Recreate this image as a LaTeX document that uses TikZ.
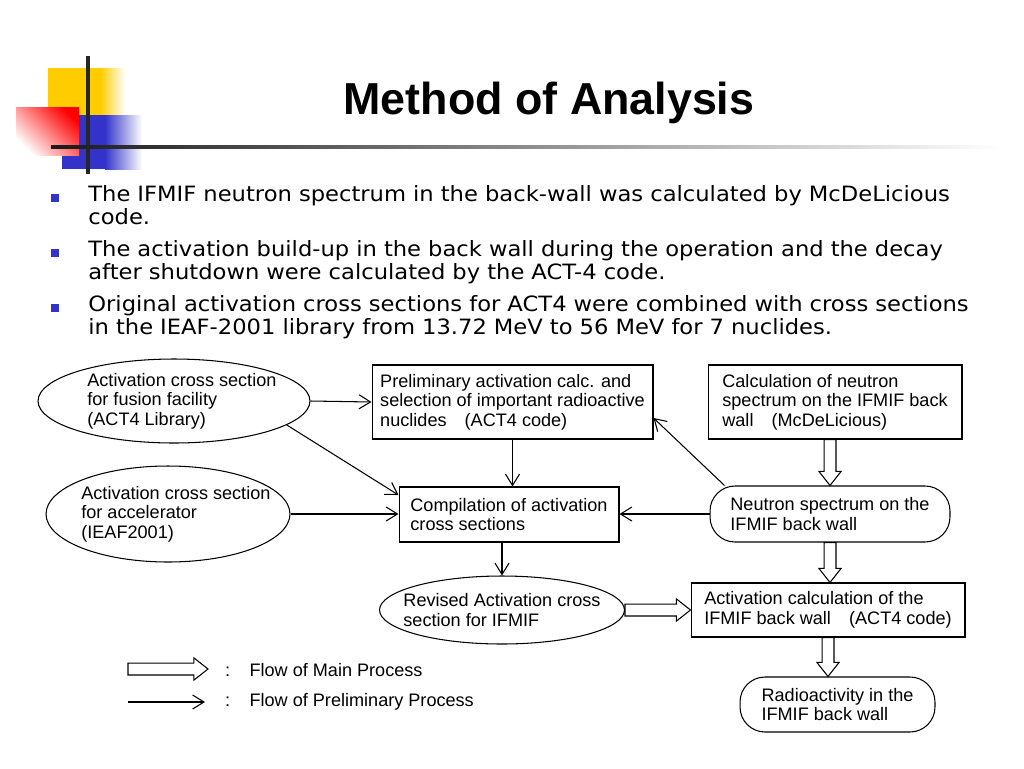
\documentclass[tikz,border=0pt]{standalone}
\usepackage{fontspec}
\setmainfont{Liberation Sans}
\newfontfamily\tahoma[FakeStretch=1.074]{DejaVu Sans}
\usepackage{tikz}
\usetikzlibrary{shapes.geometric}
\usetikzlibrary{positioning,calc,arrows.meta}
\usepackage{xcolor}

\definecolor{deckyellow}{RGB}{255,204,0}
\definecolor{deckblue}{RGB}{51,51,204}
\definecolor{deckred}{RGB}{255,0,0}

\newcommand\diagfont{\fontsize{10.3}{11.1}\selectfont}
\newcommand\slidetitlefont{\fontsize{25.5}{28}\selectfont\bfseries}
\newcommand\itemfont{\tahoma\fontsize{12}{13.1}\selectfont}
\newcommand\pad{\hspace*{9pt}}

\tikzset{
  procbox/.style={rectangle, draw, line width=0.6pt, align=left, font=\diagfont, inner sep=0pt},
  roundbox/.style={procbox, rounded corners=0.5cm},
  srcell/.style={ellipse, draw, line width=0.6pt, align=left, font=\diagfont, inner xsep=-12pt, inner ysep=-4pt},
  item/.style={anchor=base west, align=left, text width=18cm, inner sep=0pt, font=\itemfont},
  flow/.style={line width=0.6pt, -{Straight Barb[length=6.5pt,width=8pt]}},
  mainflow/.style={draw, fill=white, line width=0.6pt,
    to path={let \p1=(\tikztostart), \p2=(\tikztotarget), \n1={atan2(\y2-\y1,\x2-\x1)} in
      ($(\p1)+(\n1+90:3.4pt)$) -- ($(\p2)!8pt!(\p1)+(\n1+90:3.4pt)$)
      -- ($(\p2)!8pt!(\p1)+(\n1+90:6.3pt)$) -- (\p2)
      -- ($(\p2)!8pt!(\p1)+(\n1-90:6.3pt)$) -- ($(\p2)!8pt!(\p1)+(\n1-90:3.4pt)$)
      -- ($(\p1)+(\n1-90:3.4pt)$) -- cycle}}
}

\begin{document}
\begin{tikzpicture}[x=0.02cm,y=-0.02cm]
\useasboundingbox (0,0) rectangle (1024,768);

% corner decoration
\fill[deckyellow] (48,68) rectangle (100,115);
\shade[left color=deckyellow, right color=white] (100,68) rectangle (125,115);
\fill[deckblue] (62,115) rectangle (105,169);
\shade[left color=deckblue, right color=white] (105,115) rectangle (142,169);
\shade[top color=deckred, bottom color=white, shading angle=-45] (16,107) rectangle (79,155);
\draw[line width=1.8pt, black!85] (88,56) -- (88,174);
\shade[left color=black!90, middle color=black!65, right color=white] (51,145.5) rectangle (1000,148.5);

\node[font=\slidetitlefont] (title) at (549,103) {Method of Analysis};

% bullets
\fill[deckblue] (51,194) rectangle (59,202);
\fill[deckblue] (51,249) rectangle (59,257);
\fill[deckblue] (51,304) rectangle (59,312);
\node[item] (itemA) at (88,201) {The IFMIF neutron spectrum in the back-wall was calculated by McDeLicious\\code.};
\node[item] (itemB) at (88,256) {The activation build-up in the back wall during the operation and the decay\\after shutdown were calculated by the ACT-4 code.};
\node[item] (itemC) at (88,311) {Original activation cross sections for ACT4 were combined with cross sections\\in the IEAF-2001 library from 13.72 MeV to 56 MeV for 7 nuclides.};

% flow chart
\node[srcell, minimum width=5.44cm, minimum height=1.68cm] (fusionlib) at (174,401) {\pad Activation cross section\\\pad for fusion facility\\\pad (ACT4 Library)};
\node[srcell, minimum width=4.88cm, minimum height=1.92cm] (accellib) at (168,514) {\pad Activation cross section\\\pad for accelerator\\\pad (IEAF2001)};
\node[procbox, minimum width=5.62cm, minimum height=1.48cm] (prelim) at (512.5,402) {Preliminary activation calc. and\\selection of important radioactive\\nuclides\quad(ACT4 code)};
\node[procbox, minimum width=4.4cm, minimum height=1.1cm] (compile) at (509,514.5) {Compilation of activation\\cross sections};
\node[srcell, minimum width=4.9cm, minimum height=1.36cm] (revised) at (502,610) {Revised Activation cross\\section for IFMIF};
\node[procbox, minimum width=5.08cm, minimum height=1.48cm] (spectcalc) at (835,402) {Calculation of neutron\\spectrum on the IFMIF back\\wall\quad(McDeLicious)};
\node[roundbox, minimum width=4.8cm, minimum height=1.12cm] (spectrum) at (830,514) {Neutron spectrum on the\\IFMIF back wall};
\node[procbox, minimum width=5.48cm, minimum height=1.08cm] (actcalc) at (828,610) {Activation calculation of the\\IFMIF back wall\quad(ACT4 code)};
\node[roundbox, minimum width=3.9cm, minimum height=1.1cm] (radio) at (837.5,704.5) {Radioactivity in the\\IFMIF back wall};

% preliminary flow
\draw[flow] (fusionlib.east) -- (prelim.west);
\draw[flow] (fusionlib.-12) -- (compile.170);
\draw[flow] (accellib.east) -- (accellib.east -| compile.west);
\draw[flow] (prelim.south) -- (prelim.south |- compile.north);
\draw[flow] (spectrum.west) -- (spectrum.west -| compile.east);
\draw[flow] ([xshift=0.3cm]spectrum.north west) -- ([yshift=-0.32cm]prelim.east);
\draw[flow] (revised.north |- compile.south) -- (revised.north);

% main flow
\draw[mainflow] (spectrum.north |- spectcalc.south) to (spectrum.north);
\draw[mainflow] (spectrum.south) to (spectrum.south |- actcalc.north);
\draw[mainflow] (revised.east) to (actcalc.west);
\draw[mainflow] (actcalc.south) to (actcalc.south |- radio.north);

% legend
\coordinate (mainA) at (128,669);
\coordinate (mainB) at (208,669);
\coordinate (preA) at (128,702);
\coordinate (preB) at (205,702);
\draw[mainflow] (mainA) to (mainB);
\draw[flow] (preA) -- (preB);
\node[font=\diagfont, anchor=west] (mainkey) at (219,670) {:\hspace{11pt}Flow of Main Process};
\node[font=\diagfont, anchor=west] (prekey) at (219,702) {:\hspace{11pt}Flow of Preliminary Process};
\end{tikzpicture}
\end{document}
